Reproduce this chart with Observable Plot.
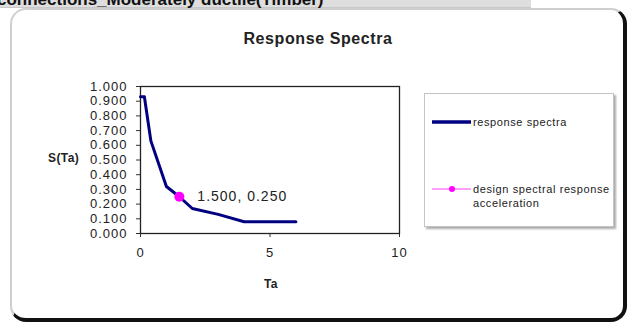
<!DOCTYPE html>
<html>
<head>
<meta charset="utf-8">
<script src="https://cdn.jsdelivr.net/npm/d3@7"></script>
<script src="https://cdn.jsdelivr.net/npm/@observablehq/plot@0.6"></script>
<style>
  html, body { margin: 0; padding: 0; background: #fff; overflow: hidden; }
  #wrap { position: relative; width: 631px; height: 323px; font-family: Arial, "Liberation Sans", sans-serif; color: #222; }
  .abs { position: absolute; white-space: nowrap; }
  #band { left: 0; top: 0; width: 531px; height: 7px; background: #dedede; border-bottom: 1px solid #c8c8c8; }
  #header { left: -3px; top: -9px; font-size: 17px; line-height: 17px; font-weight: bold; color: #111; }
  #box { left: 10px; top: 8px; width: 612px; height: 309px; background: #fff; border: 2px solid #cfcfcf;
         border-right: 4px solid #111; border-bottom: 4px solid #111; border-radius: 16px; box-sizing: border-box; width: 617px; height: 314px; }
  #title { left: 218px; width: 200px; top: 30px; text-align: center; font-size: 16px; font-weight: bold; letter-spacing: 0.6px; }
  #ylab { left: 48px; top: 151px; font-size: 12px; font-weight: bold; letter-spacing: 0.4px; }
  #xlab { left: 246px; width: 50px; text-align: center; top: 277px; font-size: 12px; font-weight: bold; letter-spacing: 0.4px; }
  #legend { left: 424px; top: 93px; width: 190px; height: 134px; border: 1px solid #c4c4c4; box-shadow: 2px 2px 2px #aaa; background: #fff; box-sizing: border-box; }
  .ltext { font-size: 11px; letter-spacing: 0.6px; line-height: 14px; color: #222; }
  #chart { position: absolute; left: 0; top: 0; }
  #chart svg text { letter-spacing: 1px; }
</style>
</head>
<body>
<div id="wrap">
  <div id="band" class="abs"></div>
  <div id="header" class="abs">connections_Moderately ductile(Timber)</div>
  <div id="box" class="abs"></div>
  <div id="title" class="abs">Response Spectra</div>
  <div id="ylab" class="abs">S(Ta)</div>
  <div id="xlab" class="abs">Ta</div>
  <div id="legend" class="abs"></div>
  <div id="chart"></div>
</div>
<script>
// Data
const Ta = [0, 0.15, 0.4, 1.0, 1.5, 2.0, 3.0, 4.0, 6.0];
const S  = [0.93, 0.93, 0.63, 0.32, 0.25, 0.17, 0.13, 0.08, 0.08];
const designTa = [1.5];
const designS = [0.25];
const xTicks = [0, 5, 10];
const yTicks = [0, 0.1, 0.2, 0.3, 0.4, 0.5, 0.6, 0.7, 0.8, 0.9, 1.0];
const seriesNames = ["response spectra", "design spectral response\nacceleration"];
const seriesColors = ["#000080", "#ff00ff"];

const spectra = Ta.map((t, i) => ({Ta: t, S: S[i]}));
const design = designTa.map((t, i) => ({Ta: t, S: designS[i]}));

const chart = Plot.plot({
  width: 420,
  height: 300,
  marginLeft: 140,
  marginRight: 21,
  marginTop: 86,
  marginBottom: 67,
  style: {background: "transparent", fontFamily: "Arial, 'Liberation Sans', sans-serif", fontSize: "13px", color: "#222"},
  x: {domain: [0, 10]},
  y: {domain: [0, 1]},
  marks: [
    Plot.axisX({ticks: xTicks, tickSize: 4, tickPadding: 10, label: null, stroke: "#333"}),
    Plot.axisY({ticks: yTicks, tickFormat: d3.format(".3f"), tickSize: 4, tickPadding: 9, label: null, stroke: "#333"}),
    Plot.frame({stroke: "#222", strokeWidth: 1.3}),
    Plot.line(spectra, {x: "Ta", y: "S", stroke: seriesColors[0], strokeWidth: 3, strokeLinejoin: "round", strokeLinecap: "round"}),
    Plot.dot(design, {x: "Ta", y: "S", r: 5, fill: seriesColors[1], stroke: "none"}),
    Plot.text(design, {x: "Ta", y: "S", text: d => `${d.Ta.toFixed(3)}, ${d.S.toFixed(3)}`, dx: 18, textAnchor: "start", fontSize: 14, fill: "#222"})
  ]
});
document.getElementById("chart").appendChild(chart);

// Legend built from the series arrays
const legend = d3.select("#legend");
const rows = [28, 95];
seriesNames.forEach((name, i) => {
  const sw = legend.append("svg").attr("width", 42).attr("height", 10)
    .style("position", "absolute").style("left", "6px").style("top", (rows[i] - 5) + "px");
  if (i === 0) {
    sw.append("line").attr("x1", 1).attr("x2", 40).attr("y1", 5).attr("y2", 5)
      .attr("stroke", seriesColors[i]).attr("stroke-width", 3.5);
  } else {
    sw.append("line").attr("x1", 1).attr("x2", 40).attr("y1", 5).attr("y2", 5)
      .attr("stroke", "#ff80ff").attr("stroke-width", 1.5);
    sw.append("circle").attr("cx", 21).attr("cy", 5).attr("r", 3).attr("fill", seriesColors[i]);
  }
  const lines = name.split("\n");
  lines.forEach((ln, j) => {
    legend.append("div").attr("class", "abs ltext")
      .style("left", "48px").style("top", (rows[i] - 7 + j * 14) + "px").text(ln);
  });
});
</script>
</body>
</html>
